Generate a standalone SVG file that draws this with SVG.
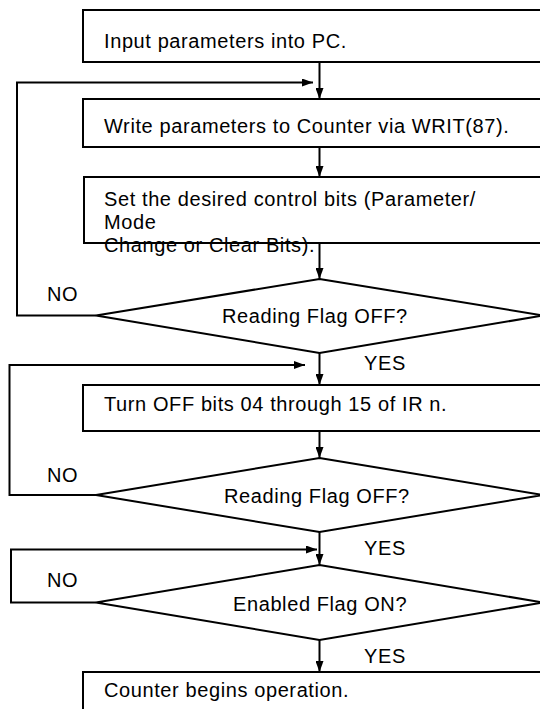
<svg xmlns="http://www.w3.org/2000/svg" width="540" height="709" viewBox="0 0 540 709">
<style>
  .bg{fill:#ffffff}
  .box{fill:#ffffff;stroke:#000000;stroke-width:2}
  .dia{fill:#ffffff;stroke:#000000;stroke-width:2;stroke-linejoin:miter}
  .ln{fill:none;stroke:#000000;stroke-width:2}
  text{font-family:"Liberation Sans",Arial,Helvetica,sans-serif;font-size:20px;fill:#000000;letter-spacing:0.6px}
</style>
<defs>
  <marker id="arr" viewBox="0 0 11 8" markerWidth="11" markerHeight="8" refX="11" refY="4" orient="auto" markerUnits="userSpaceOnUse">
    <path d="M0,0 L11,4 L0,8 z" fill="#000000"/>
  </marker>
</defs>
<rect class="bg" x="0" y="0" width="540" height="709"/>

<g id="n1">
  <rect class="box" x="83" y="10" width="480" height="52"/>
  <text x="104" y="48">Input parameters into PC.</text>
</g>
<g id="n2">
  <rect class="box" x="83" y="99" width="480" height="48"/>
  <text x="104" y="133">Write parameters to Counter via WRIT(87).</text>
</g>
<g id="n3">
  <rect class="box" x="84" y="177" width="480" height="66"/>
  <text x="104" y="206">Set the desired control bits (Parameter/</text>
  <text x="104" y="229">Mode</text>
  <text x="104" y="252">Change or Clear Bits).</text>
</g>
<g id="d1">
  <polygon class="dia" points="319.5,279 543,315.5 319.5,353 96,315.5"/>
  <text x="222" y="323">Reading Flag OFF?</text>
</g>
<g id="n4">
  <rect class="box" x="83" y="385" width="480" height="46"/>
  <text x="104" y="411">Turn OFF bits 04 through 15 of IR n.</text>
</g>
<g id="d2">
  <polygon class="dia" points="319.5,458 543,495 319.5,532 96,495"/>
  <text x="224" y="503">Reading Flag OFF?</text>
</g>
<g id="d3">
  <polygon class="dia" points="319.5,565 543,602.5 319.5,640 96,602.5"/>
  <text x="233" y="611">Enabled Flag ON?</text>
</g>
<g id="n5">
  <rect class="box" x="83" y="672" width="480" height="60"/>
  <text x="104" y="697">Counter begins operation.</text>
</g>

<g id="connectors">
  <line class="ln" x1="319.5" y1="62" x2="319.5" y2="99" marker-end="url(#arr)"/>
  <line class="ln" x1="319.5" y1="147" x2="319.5" y2="177" marker-end="url(#arr)"/>
  <line class="ln" x1="319.5" y1="243" x2="319.5" y2="279" marker-end="url(#arr)"/>
  <line class="ln" x1="319.5" y1="353" x2="319.5" y2="385" marker-end="url(#arr)"/>
  <line class="ln" x1="319.5" y1="431" x2="319.5" y2="458" marker-end="url(#arr)"/>
  <line class="ln" x1="319.5" y1="532" x2="319.5" y2="565" marker-end="url(#arr)"/>
  <line class="ln" x1="319.5" y1="640" x2="319.5" y2="672" marker-end="url(#arr)"/>
  <polyline class="ln" points="96,315.5 17,315.5 17,82.5 313,82.5" marker-end="url(#arr)"/>
  <polyline class="ln" points="96,495 9.5,495 9.5,365 305,365" marker-end="url(#arr)"/>
  <polyline class="ln" points="96,602.5 11,602.5 11,549.5 317,549.5" marker-end="url(#arr)"/>
  <text x="47" y="301">NO</text>
  <text x="364" y="370">YES</text>
  <text x="47" y="482">NO</text>
  <text x="364" y="555">YES</text>
  <text x="47" y="587">NO</text>
  <text x="364" y="663">YES</text>
</g>
</svg>
